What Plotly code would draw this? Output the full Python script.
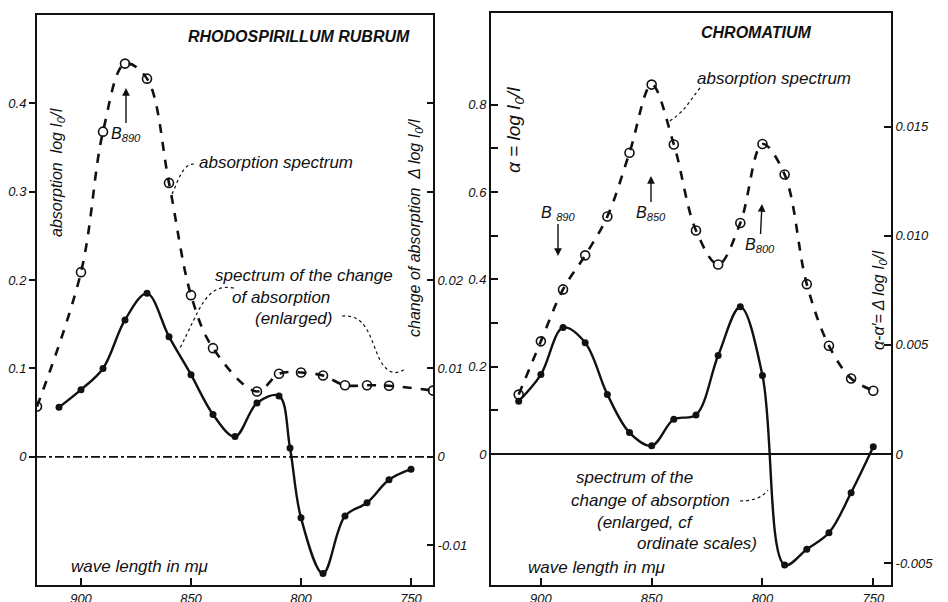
import plotly.graph_objects as go

# ---------------- data ----------------
# Rhodospirillum rubrum
rr_abs_wl = [920, 900, 890, 880, 870, 860, 850, 840, 820, 810, 800, 790, 780, 770, 760, 740]
rr_abs = [0.057, 0.209, 0.368, 0.445, 0.428, 0.310, 0.183, 0.123, 0.074, 0.094, 0.0955, 0.092, 0.081, 0.081, 0.0805, 0.075]
rr_chg_wl = [910, 900, 890, 880, 870, 860, 850, 840, 830, 820, 810, 805, 800, 790, 780, 770, 760, 750]
rr_chg = [0.0056, 0.0076, 0.0100, 0.0155, 0.0185, 0.0136, 0.0093, 0.0048, 0.0023, 0.0061, 0.0069, 0.0010,
          -0.0069, -0.0132, -0.0067, -0.0052, -0.0026, -0.0014]

# Chromatium
ch_abs_wl = [910, 900, 890, 880, 870, 860, 850, 840, 830, 820, 810, 800, 790, 780, 770, 760, 750]
ch_abs = [0.136, 0.258, 0.377, 0.455, 0.544, 0.690, 0.846, 0.709, 0.512, 0.434, 0.529, 0.710, 0.640, 0.389, 0.248, 0.173, 0.145]
ch_chg_wl = [910, 900, 890, 880, 870, 860, 850, 840, 830, 820, 810, 800, 790, 780, 770, 760, 750]
ch_chg = [0.00242, 0.00364, 0.00579, 0.0051, 0.00273, 0.00098, 0.00038, 0.00159, 0.00179, 0.00451, 0.00674,
          0.0036, -0.00508, -0.00436, -0.00361, -0.00177, 0.00033]

x_ticks = [900, 850, 800, 750]
rr_left_ticks = [0, 0.1, 0.2, 0.3, 0.4]
rr_left_text = ["0", "0.1", "0.2", "0.3", "0.4"]
rr_right_ticks = [-0.01, 0, 0.01, 0.02, 0.03, 0.04]
rr_right_text = ["-0.01", "0", "0.01", "0.02", "", ""]
ch_left_ticks = [0, 0.1, 0.2, 0.3, 0.4, 0.5, 0.6, 0.7, 0.8]
ch_left_text = ["0", "", "0.2", "", "0.4", "", "0.6", "", "0.8"]
ch_right_ticks = [-0.005, 0, 0.005, 0.010, 0.015]
ch_right_text = ["-0.005", "0", "0.005", "0.010", "0.015"]

# ---------------- layout helpers ----------------
# The page body has an 8px margin, so the figure is drawn 8px in from the window corner.
OFF = 8
W, H = 948 - OFF, 602 - OFF
def PX(x):
    return (x - OFF) / W
def PY(y):
    return 1 - (y - OFF) / H

FONT = "Liberation Sans"
BLK = "#111111"

fig = go.Figure()

abs_line = dict(color=BLK, width=2.6, dash="dash", shape="spline", smoothing=1.0)
chg_line = dict(color=BLK, width=2.4, shape="spline", smoothing=1.0)
open_mk = dict(symbol="circle-open", size=9, color=BLK, line=dict(width=1.6, color=BLK))
fill_mk = dict(symbol="circle", size=7, color=BLK)

fig.add_trace(go.Scatter(x=rr_abs_wl, y=rr_abs, mode="lines+markers", line=abs_line, marker=open_mk,
                         xaxis="x", yaxis="y", name="absorption spectrum (R. rubrum)"))
fig.add_trace(go.Scatter(x=rr_chg_wl, y=rr_chg, mode="lines+markers", line=chg_line, marker=fill_mk,
                         xaxis="x", yaxis="y2", name="change of absorption (R. rubrum)"))
fig.add_trace(go.Scatter(x=ch_abs_wl, y=ch_abs, mode="lines+markers", line=abs_line, marker=open_mk,
                         xaxis="x2", yaxis="y3", name="absorption spectrum (Chromatium)"))
fig.add_trace(go.Scatter(x=ch_chg_wl, y=ch_chg, mode="lines+markers", line=chg_line, marker=fill_mk,
                         xaxis="x2", yaxis="y4", name="change of absorption (Chromatium)"))

tickfont = dict(family=FONT, size=13, color=BLK, style="italic")
ax_common = dict(showline=True, linecolor=BLK, linewidth=2, showgrid=False, zeroline=False,
                 automargin=False, tickfont=tickfont, tickcolor=BLK, tickwidth=1.5)

ydom_l = [PY(585), PY(15)]
ydom_r = [PY(585), PY(13)]

fig.update_layout(
    width=W, height=H,
    margin=dict(l=0, r=0, t=0, b=0, autoexpand=False),
    paper_bgcolor="white", plot_bgcolor="white",
    showlegend=False,
    xaxis=dict(domain=[PX(37), PX(433)], range=[920, 740], anchor="y", mirror=True,
               tickvals=x_ticks, ticks="inside", ticklen=7, **ax_common),
    yaxis=dict(domain=ydom_l, range=[-0.145, 0.5], anchor="x", tickvals=rr_left_ticks,
               ticktext=rr_left_text, ticks="outside", ticklen=6, **ax_common),
    yaxis2=dict(range=[-0.0145, 0.05], anchor="x", overlaying="y", side="right",
                tickvals=rr_right_ticks, ticktext=rr_right_text, ticks="inside", ticklen=6, **ax_common),
    xaxis2=dict(domain=[PX(491), PX(891)], range=[922.5, 742], anchor="y3", mirror=True,
                tickvals=x_ticks, ticks="inside", ticklen=7, **ax_common),
    yaxis3=dict(domain=ydom_r, range=[-0.3, 1.01], anchor="x2", tickvals=ch_left_ticks,
                ticktext=ch_left_text, ticks="inside", ticklen=7, **ax_common),
    yaxis4=dict(range=[-0.006, 0.0202], anchor="x2", overlaying="y3", side="right",
                tickvals=ch_right_ticks, ticktext=ch_right_text, ticks="inside", ticklen=7, **ax_common),
)

# zero lines
fig.add_shape(type="line", xref="x domain", yref="y", x0=0, x1=1, y0=0, y1=0,
              line=dict(color=BLK, width=1.6, dash="dashdot"))
fig.add_shape(type="line", xref="x2 domain", yref="y3", x0=0, x1=1, y0=0, y1=0,
              line=dict(color=BLK, width=1.8))

def txt(x, y, text, size=17, bold=False, angle=0, xanchor="center"):
    fig.add_annotation(x=PX(x), y=PY(y), xref="paper", yref="paper", text=text, showarrow=False,
                       textangle=angle, xanchor=xanchor, yanchor="middle",
                       font=dict(family=FONT, size=size, color=BLK, style="italic",
                                 weight="bold" if bold else "normal"))

def arrow(xtip, ytip, ax, ay, text, size=16):
    fig.add_annotation(x=PX(xtip), y=PY(ytip), xref="paper", yref="paper", text=text,
                       showarrow=True, ax=ax, ay=ay, arrowhead=2, arrowsize=1.1, arrowwidth=1.4,
                       arrowcolor=BLK, font=dict(family=FONT, size=size, color=BLK, style="italic"))

def dotted(points):
    (x0, y0), rest = points[0], points[1:]
    path = "M %f,%f" % (PX(x0), PY(y0))
    for i in range(0, len(rest), 3):
        c1, c2, e = rest[i], rest[i + 1], rest[i + 2]
        path += " C %f,%f %f,%f %f,%f" % (PX(c1[0]), PY(c1[1]), PX(c2[0]), PY(c2[1]), PX(e[0]), PY(e[1]))
    fig.add_shape(type="path", xref="paper", yref="paper", path=path,
                  line=dict(color=BLK, width=1.2, dash="dot"))

# ---- left panel texts ----
txt(299, 36, "RHODOSPIRILLUM RUBRUM", size=16, bold=True)
txt(57, 172, "absorption  log I<sub>0</sub>/I", size=16, angle=-90)
txt(415, 228, "change of absorption  Δ log I<sub>0</sub>/I", size=16, angle=-90)
arrow(126, 88, 0, 46, "B<sub>890</sub>")
txt(276, 162, "absorption spectrum")
dotted([(194, 164), (182, 164), (178, 182), (172, 194)])
txt(304, 276, "spectrum of the change")
txt(281, 297, "of absorption")
txt(294, 318, "(enlarged)")
dotted([(234, 288), (205, 283), (200, 310), (180, 348)])
dotted([(342, 316), (368, 314), (370, 340), (380, 360), (388, 375), (398, 375), (406, 368)])
txt(140, 566, "wave length in mμ")

# ---- right panel texts ----
txt(756, 33, "CHROMATIUM", size=16, bold=True)
txt(515, 130, "α = log I<sub>0</sub>/I", size=19, angle=-90)
txt(879, 300, "α-α′= Δ log I<sub>0</sub>/I", size=16, angle=-90)
arrow(558, 256, 0, -43, "B <sub>890</sub>")
arrow(651, 176, 0, 37, "B<sub>850</sub>")
arrow(762, 204, -2, 41, "B<sub>800</sub>")
txt(774, 79, "absorption spectrum")
dotted([(700, 88), (690, 100), (685, 112), (668, 122)])
txt(634, 478, "spectrum of the")
txt(650, 500, "change of absorption")
dotted([(740, 501), (752, 501), (762, 498), (768, 490)])
txt(645, 522, "(enlarged, cf")
txt(697, 543, "ordinate scales)")
txt(597, 567, "wave length in mμ")

fig.write_html("out.html")
